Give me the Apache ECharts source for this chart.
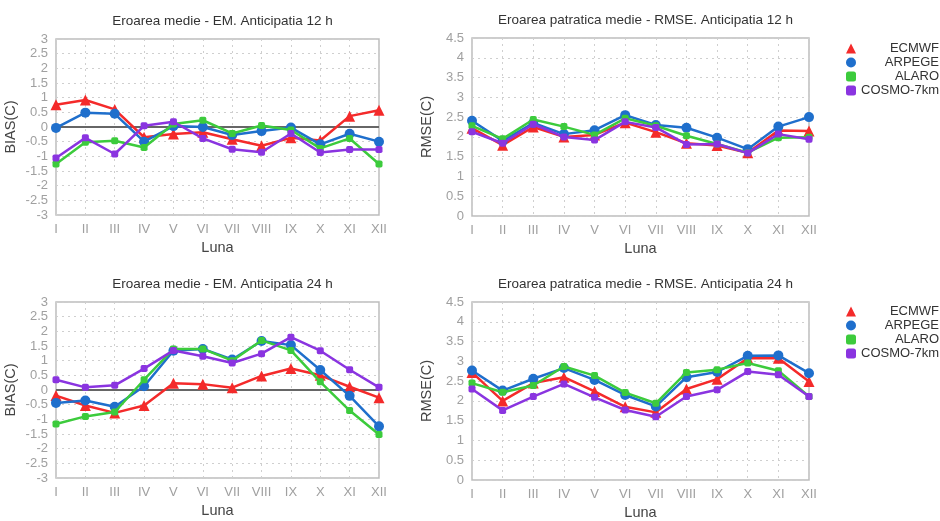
<!DOCTYPE html>
<html lang="ro">
<head>
    <meta charset="UTF-8">
    <title>Eroarea medie</title>
    <script src="https://cdn.jsdelivr.net/npm/echarts@6/dist/echarts.min.js"></script>
</head>
<body style="margin:0;background:#fff">
<div id="chart" style="width:940px;height:521px"></div>
<script>
    var months = ['I', 'II', 'III', 'IV', 'V', 'VI', 'VII', 'VIII', 'IX', 'X', 'XI', 'XII'];
    var models = ['ECMWF', 'ARPEGE', 'ALARO', 'COSMO-7km'];
    var biasTicks = [-3, 3, 0.5];
    var rmseTicks = [0, 4.5, 0.5];

    // BIAS, anticipatia 12 h
    var biasEcmwf12 = [0.76, 0.92, 0.6, -0.35, -0.24, -0.18, -0.42, -0.64, -0.37, -0.46, 0.37, 0.57];
    var biasArpege12 = [-0.03, 0.49, 0.45, -0.5, 0.03, 0.0, -0.27, -0.14, -0.02, -0.59, -0.23, -0.5];
    var biasAlaro12 = [-1.26, -0.52, -0.47, -0.7, 0.1, 0.23, -0.22, 0.05, -0.1, -0.73, -0.39, -1.26];
    var biasCosmo12 = [-1.06, -0.37, -0.92, 0.04, 0.18, -0.39, -0.76, -0.86, -0.22, -0.87, -0.77, -0.77];

    // RMSE, anticipatia 12 h
    var rmseEcmwf12 = [2.22, 1.79, 2.25, 2.0, 2.05, 2.36, 2.12, 1.84, 1.78, 1.6, 2.16, 2.15];
    var rmseArpege12 = [2.41, 1.9, 2.35, 2.07, 2.17, 2.55, 2.3, 2.23, 1.98, 1.69, 2.26, 2.5];
    var rmseAlaro12 = [2.28, 1.95, 2.44, 2.26, 2.05, 2.47, 2.28, 2.03, 1.82, 1.6, 1.98, 1.99];
    var rmseCosmo12 = [2.13, 1.84, 2.32, 2.0, 1.92, 2.38, 2.24, 1.81, 1.82, 1.59, 2.07, 1.94];

    // BIAS, anticipatia 24 h
    var biasEcmwf24 = [-0.19, -0.53, -0.78, -0.53, 0.23, 0.2, 0.08, 0.48, 0.73, 0.5, 0.11, -0.26];
    var biasArpege24 = [-0.44, -0.36, -0.57, 0.13, 1.34, 1.4, 1.04, 1.67, 1.53, 0.68, -0.2, -1.24];
    var biasAlaro24 = [-1.16, -0.9, -0.75, 0.35, 1.4, 1.4, 1.0, 1.69, 1.35, 0.28, -0.7, -1.52];
    var biasCosmo24 = [0.35, 0.09, 0.16, 0.73, 1.35, 1.15, 0.92, 1.24, 1.8, 1.34, 0.69, 0.09];

    // RMSE, anticipatia 24 h
    var rmseEcmwf24 = [2.72, 2.0, 2.45, 2.6, 2.24, 1.85, 1.71, 2.3, 2.55, 3.08, 3.08, 2.49];
    var rmseArpege24 = [2.77, 2.26, 2.56, 2.83, 2.53, 2.15, 1.86, 2.6, 2.73, 3.14, 3.15, 2.7];
    var rmseAlaro24 = [2.45, 2.22, 2.39, 2.87, 2.64, 2.21, 1.94, 2.72, 2.79, 2.96, 2.76, 2.11];
    var rmseCosmo24 = [2.3, 1.76, 2.11, 2.43, 2.09, 1.77, 1.6, 2.11, 2.28, 2.74, 2.66, 2.11];

    var colors = ['#f42a2a', '#1f6fcc', '#3ccb3c', '#8a34e0'];
    var symbols = ['triangle', 'circle', 'roundRect', 'roundRect'];
    var symbolSizes = [11, 10, 7, 7];
    var font = 'Liberation Sans, Arial, sans-serif';

    var panels = [
        {title: 'Eroarea medie - EM. Anticipatia 12 h', name: 'BIAS(C)', ticks: biasTicks,
            data: [biasEcmwf12, biasArpege12, biasAlaro12, biasCosmo12], zero: true,
            grid: {left: 56, top: 39, width: 323, height: 176}},
        {title: 'Eroarea patratica medie - RMSE. Anticipatia 12 h', name: 'RMSE(C)', ticks: rmseTicks,
            data: [rmseEcmwf12, rmseArpege12, rmseAlaro12, rmseCosmo12], zero: false,
            grid: {left: 472, top: 38, width: 337, height: 178}},
        {title: 'Eroarea medie - EM. Anticipatia 24 h', name: 'BIAS(C)', ticks: biasTicks,
            data: [biasEcmwf24, biasArpege24, biasAlaro24, biasCosmo24], zero: true,
            grid: {left: 56, top: 302, width: 323, height: 176}},
        {title: 'Eroarea patratica medie - RMSE. Anticipatia 24 h', name: 'RMSE(C)', ticks: rmseTicks,
            data: [rmseEcmwf24, rmseArpege24, rmseAlaro24, rmseCosmo24], zero: false,
            grid: {left: 472, top: 302, width: 337, height: 178}}
    ];

    var titles = [], grids = [], xAxes = [], yAxes = [], series = [];
    panels.forEach(function (p, k) {
        var g = p.grid;
        titles.push({
            text: p.title,
            left: g.left + g.width / 2,
            top: g.top - 30,
            textAlign: 'center',
            textStyle: {fontSize: 13.5, fontWeight: 'normal', color: '#333', fontFamily: font}
        });
        grids.push({
            left: g.left, top: g.top, width: g.width, height: g.height,
            show: true, borderColor: '#bdbdbd', borderWidth: 1.5, backgroundColor: '#fff'
        });
        xAxes.push({
            type: 'category', gridIndex: k, data: months, boundaryGap: false,
            name: 'Luna', nameLocation: 'middle', nameGap: 25,
            nameTextStyle: {fontSize: 14.5, color: '#444', fontFamily: font},
            axisLine: {show: false}, axisTick: {show: false},
            axisLabel: {color: '#a0a0a0', fontSize: 13, margin: 8, fontFamily: font},
            splitLine: {show: true, lineStyle: {color: '#cfcfcf', type: [2, 4]}}
        });
        yAxes.push({
            type: 'value', gridIndex: k, min: p.ticks[0], max: p.ticks[1], interval: p.ticks[2],
            name: p.name, nameLocation: 'middle', nameGap: 38,
            nameTextStyle: {fontSize: 14.5, color: '#444', fontFamily: font},
            axisLine: {show: false}, axisTick: {show: false},
            axisLabel: {color: '#a0a0a0', fontSize: 13, margin: 8, fontFamily: font},
            splitLine: {show: true, lineStyle: {color: '#cfcfcf', type: [2, 4]}}
        });
        p.data.forEach(function (vals, i) {
            var s = {
                name: models[i], type: 'line', xAxisIndex: k, yAxisIndex: k,
                data: vals, color: colors[i],
                symbol: symbols[i], symbolSize: symbolSizes[i], showSymbol: true,
                lineStyle: {width: 2.5, color: colors[i]},
                itemStyle: {color: colors[i]},
                animation: false, z: 3 + i
            };
            if (i === 0 && p.zero) {
                s.markLine = {
                    silent: true, symbol: 'none', z: 2,
                    label: {show: false},
                    lineStyle: {color: '#666', width: 2, type: 'solid'},
                    data: [{yAxis: 0}]
                };
            }
            series.push(s);
        });
    });

    function legendAt(top) {
        return {
            left: 841, top: top, orient: 'vertical',
            itemWidth: 10, itemHeight: 10, itemGap: 1,
            data: models.map(function (m, i) {
                return {name: m, icon: symbols[i], itemStyle: {color: colors[i]}};
            }),
            formatter: function (name) { return '{t|' + name + '}'; },
            textStyle: {
                fontFamily: font, color: '#333', fontSize: 13,
                rich: {t: {width: 78, align: 'right', fontSize: 13, lineHeight: 13, color: '#333', fontFamily: font}}
            }
        };
    }

    var _chart = echarts.init(document.getElementById('chart'));
    var option = {
        animation: false,
        title: titles,
        legend: [legendAt(37), legendAt(300)],
        grid: grids,
        xAxis: xAxes,
        yAxis: yAxes,
        series: series
    };
    _chart.setOption(option, true);
</script>
</body>
</html>
